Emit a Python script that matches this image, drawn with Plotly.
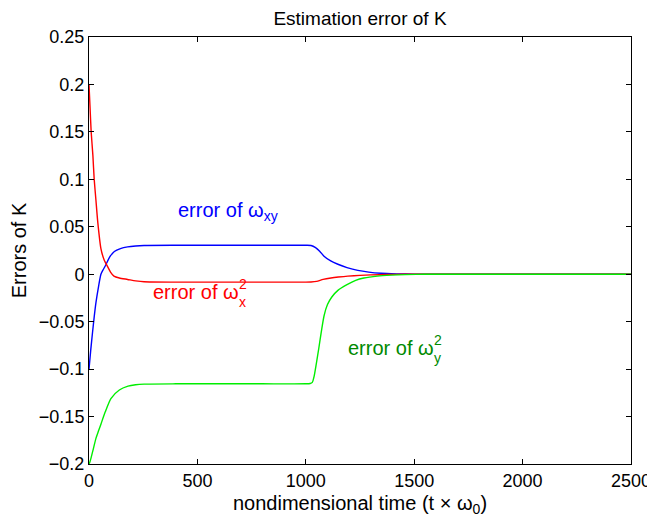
import plotly.graph_objects as go

# Estimation error of K
# error of omega_xy (blue)
t_xy = [0, 8, 16, 24, 32, 44, 55, 66, 78, 95, 117, 145, 178, 215, 254, 400, 600, 800, 1000, 1024,
        1045, 1065, 1084, 1115, 1148, 1190, 1240, 1290, 1347, 1420, 1500, 1600, 2000, 2500]
e_xy = [-0.100, -0.080, -0.062, -0.045, -0.030, -0.013, 0.000, 0.005, 0.010, 0.018, 0.024, 0.027, 0.0288, 0.0298, 0.0303,
        0.0305, 0.0305, 0.0305, 0.0305, 0.0303, 0.028, 0.024, 0.019, 0.014, 0.0105, 0.007, 0.004, 0.0022, 0.001, 0.0004, 0.0001, 0.0, 0.0, 0.0]

# error of omega_x^2 (red)
t_x2 = [0, 5, 10, 18, 24, 32, 40, 55, 70, 86, 100, 115, 140, 178, 215, 254, 400, 600, 800, 1000, 1024,
        1050, 1080, 1116, 1150, 1194, 1250, 1300, 1380, 1450, 1550, 2000, 2500]
e_x2 = [0.200, 0.175, 0.150, 0.125, 0.100, 0.078, 0.056, 0.027, 0.015, 0.008, 0.002, -0.002, -0.004, -0.0055, -0.007, -0.008,
        -0.0083, -0.0083, -0.0083, -0.0083, -0.0082, -0.0075, -0.0055, -0.004, -0.003, -0.002, -0.0012, -0.0007, -0.0003, -0.0001, 0.0, 0.0, 0.0]

# error of omega_y^2 (green)
t_y2 = [0, 4, 9, 20, 32, 44, 55, 75, 101, 140, 180, 215, 254, 400, 600, 800, 1000, 1020, 1030,
        1038, 1048, 1060, 1072, 1084, 1100, 1120, 1148, 1190, 1230, 1268, 1330, 1393, 1460, 1550, 2000, 2500]
e_y2 = [-0.200, -0.198, -0.194, -0.184, -0.173, -0.165, -0.158, -0.145, -0.131, -0.122, -0.118, -0.1165, -0.1158,
        -0.1155, -0.1155, -0.1155, -0.1155, -0.1152, -0.114, -0.108, -0.095, -0.078, -0.060, -0.044, -0.032, -0.024, -0.017,
        -0.011, -0.0065, -0.004, -0.002, -0.001, -0.0004, -0.0001, 0.0, 0.0]

x_ticks = [0, 500, 1000, 1500, 2000, 2500]
y_ticks = [-0.2, -0.15, -0.1, -0.05, 0, 0.05, 0.1, 0.15, 0.2, 0.25]
y_tick_text = ["\u22120.2", "\u22120.15", "\u22120.1", "\u22120.05", "0", "0.05", "0.1", "0.15", "0.2", "0.25"]

FONT = "Liberation Sans, Arial, sans-serif"

fig = go.Figure()
fig.add_trace(go.Scatter(x=t_xy, y=e_xy, mode="lines", line=dict(color="#0000ff", width=1.4, shape="spline", smoothing=0.6)))
fig.add_trace(go.Scatter(x=t_x2, y=e_x2, mode="lines", line=dict(color="#ff0000", width=1.4, shape="spline", smoothing=0.6)))
fig.add_trace(go.Scatter(x=t_y2, y=e_y2, mode="lines", line=dict(color="#00ee00", width=1.4, shape="spline", smoothing=0.6)))

# curve labels (omega with stacked super/subscript)
fig.add_annotation(x=401, y=0.066, text="error of ω<sub>xy</sub>", showarrow=False, xanchor="left",
                   font=dict(color="#0000ff", size=20, family=FONT))
fig.add_annotation(x=700, y=-0.019, text="error of ω", showarrow=False, xanchor="right",
                   font=dict(color="#ff0000", size=20, family=FONT))
fig.add_annotation(x=700, y=-0.019, text="2<br>x", showarrow=False, xanchor="left", xshift=-4, yshift=-1,
                   font=dict(color="#ff0000", size=14, family=FONT), align="left")
fig.add_annotation(x=1600, y=-0.078, text="error of ω", showarrow=False, xanchor="right",
                   font=dict(color="#008a00", size=20, family=FONT))
fig.add_annotation(x=1600, y=-0.078, text="2<br>y", showarrow=False, xanchor="left", xshift=-4, yshift=-1,
                   font=dict(color="#008a00", size=14, family=FONT), align="left")

# the page body adds ~7px offset, so the figure is a bit smaller than the window
fig.update_layout(
    width=648, height=509,
    margin=dict(l=81, r=25, t=29, b=53, autoexpand=False),
    paper_bgcolor="white", plot_bgcolor="white",
    showlegend=False,
    font=dict(family=FONT, size=18, color="black"),
    title=dict(text="Estimation error of K", xref="paper", x=0.5, xanchor="center", y=0.979, yanchor="middle",
               font=dict(size=19, family=FONT, color="black")),
)
fig.update_xaxes(range=[0, 2500], tickvals=x_ticks, ticks="inside", ticklen=5, tickcolor="black",
                 showline=True, linecolor="black", linewidth=1, mirror="ticks", showgrid=False, zeroline=False,
                 automargin=False,
                 title=dict(text="nondimensional time (t × ω<sub>0</sub>)", standoff=6, font=dict(size=20)),
                 tickfont=dict(size=18))
fig.update_yaxes(range=[-0.2, 0.25], tickvals=y_ticks, ticktext=y_tick_text, ticks="inside", ticklen=5, tickcolor="black",
                 showline=True, linecolor="black", linewidth=1, mirror="ticks", showgrid=False, zeroline=False,
                 automargin=False,
                 title=dict(text="Errors of K", standoff=8, font=dict(size=20)),
                 tickfont=dict(size=18))

fig.write_html("out.html")
